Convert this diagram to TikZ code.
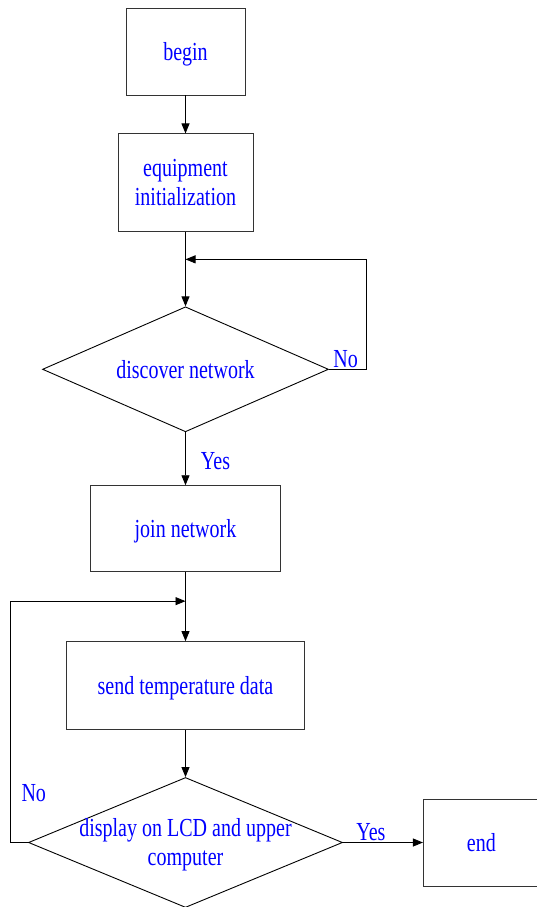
\documentclass[tikz,border=0pt]{standalone}
\usepackage{fontspec}
\setmainfont{Liberation Serif}
\newfontfamily\timesfont[FakeStretch=0.77]{Liberation Serif}
\usetikzlibrary{positioning, arrows.meta, shapes.geometric}
\tikzset{
>={Triangle[length=10pt,width=8pt]}, % filled arrow heads
every path/.style={line width=0.9pt},
proc/.style={rectangle, draw=black!80, align=center, text=blue, font=\timesfont\fontsize{26}{29}\selectfont},
oneline/.style={text depth=0pt}, % centre single lines on their caps
dec/.style={diamond, draw=black, inner sep=0pt},
txt/.style={text=blue, align=center, font=\timesfont\fontsize{26}{29}\selectfont},
lbl/.style={text=blue, inner sep=1pt, font=\timesfont\fontsize{26}{26}\selectfont},
}
\begin{document}
\begin{tikzpicture}
  \useasboundingbox (0,0) rectangle (537pt,-907pt);

  \node[proc, oneline, minimum width=119pt, minimum height=87pt] (begin) at (185.5pt,-51.5pt) {begin};
  \node[proc, minimum width=135pt, minimum height=98pt, below=38pt of begin] (init) {equipment\\initialization};
  \node[dec, minimum width=286pt, minimum height=125pt, below=74pt of init,
        label={[txt]center:discover network}] (disc) {};
  \node[proc, oneline, minimum width=190pt, minimum height=86pt, below=53pt of disc] (join) {join network};
  \node[proc, oneline, minimum width=238pt, minimum height=88pt, below=69pt of join] (send) {send temperature data};
  \node[dec, minimum width=314pt, minimum height=130pt, below=47pt of send,
        label={[txt, yshift=-2pt]center:display on LCD and upper\\computer}] (disp) {};
  \node[proc, minimum width=116pt, minimum height=87pt, right=80pt of disp] (end) {end};

  % merge points of the two loops
  \path (init.south) ++(0,-27pt) coordinate (j1);
  \path (join.south) ++(0,-29pt) coordinate (j2);

  \draw[->] (begin) -- (init);
  \draw[->] (init) -- (disc);
  \draw[->] (disc.east) -- node[lbl, above, pos=0.45] {No} ++(37pt,0) |- (j1);
  \draw[->] (disc) -- node[lbl, right=14pt, yshift=-2pt] {Yes} (join);
  \draw[->] (join) -- (send);
  \draw[->] (send) -- (disp);
  \draw[->] (disp.west) -- ++(-18pt,0) |- node[lbl, right=10pt, pos=0.103] {No} (j2);
  \draw[->] (disp) -- node[lbl, above, pos=0.35] {Yes} (end);

\end{tikzpicture}
\end{document}
